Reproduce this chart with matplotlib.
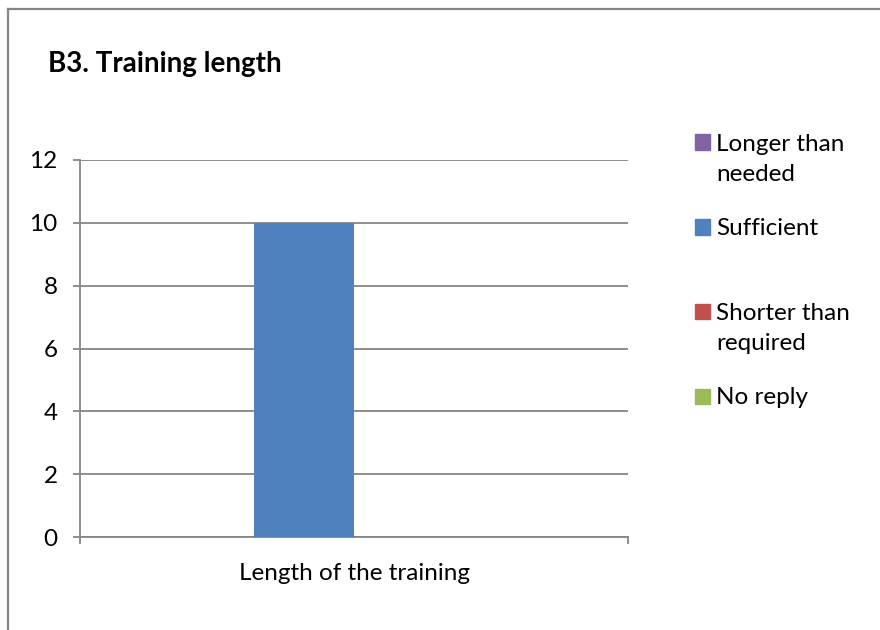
import numpy as np
import matplotlib
matplotlib.use('Agg')
import matplotlib.pyplot as plt
from matplotlib.patches import Rectangle
from matplotlib.lines import Line2D

plt.rcParams['font.family'] = ['Lato', 'DejaVu Sans']

# data
title = 'B3. Training length'
categories = ['Length of the training']
series_names = ['Longer than\nneeded', 'Sufficient', 'Shorter than\nrequired', 'No reply']
series_values = [[0], [10], [0], [0]]
series_colors = ['#8064A2', '#4F81BD', '#C0504D', '#9BBB59']
yticks = [0, 2, 4, 6, 8, 10, 12]

W, H = 880, 630
fig = plt.figure(figsize=(W / 100, H / 100), dpi=100)
ax = fig.add_axes([80 / W, 1 - 537 / H, (628 - 80) / W, (537 - 160) / H])

grey = '#868686'
fs = 17.5
n = len(series_names)
bw = 1.0 / (n + 1.5)  # excel gap width 150%
x = np.arange(len(categories))
for i in range(n):
    off = -0.5 + 0.75 * bw + (i + 0.5) * bw
    ax.bar(x + off, series_values[i], width=bw, color=series_colors[i], zorder=3)

ax.set_xlim(-0.5, len(categories) - 0.5)
ax.set_ylim(0, 12)
ax.set_yticks(yticks)
ax.yaxis.grid(True, color=grey, lw=1.3, zorder=0)
ax.tick_params(axis='y', length=5, width=1.3, color=grey, pad=11, labelsize=fs, direction='out')

ax.set_xticks(x)
ax.set_xticklabels(categories)
ax.set_xticks(np.arange(len(categories) + 1) - 0.5, minor=True)
ax.tick_params(axis='x', which='major', length=0, pad=19, labelsize=fs)
ax.tick_params(axis='x', which='minor', length=5, width=1.3, color=grey, direction='out')

for s in ['top', 'right']:
    ax.spines[s].set_visible(False)
for s in ['left', 'bottom']:
    ax.spines[s].set_color(grey)
    ax.spines[s].set_linewidth(1.3)

fig.text(48 / W, 1 - 64 / H, title, fontsize=20, fontweight='bold', va='center', ha='left')

# legend, excel style with the square on the first text line
leg_y = [142, 227, 311, 396]
line_px = 31
for name, col, yy in zip(series_names, series_colors, leg_y):
    fig.patches.append(Rectangle((695 / W, 1 - (yy + 7.5) / H), 15 / W, 15 / H,
                                 transform=fig.transFigure, color=col, figure=fig))
    extra = (name.count('\n')) * line_px  # baseline sits on the last line
    fig.text(716 / W, 1 - (yy + 8 + extra) / H, name, fontsize=fs, va='baseline', ha='left',
             linespacing=1.54)

# outer chart frame
fig.add_artist(Line2D([8 / W, 8 / W], [0, 1 - 9 / H], color=grey, lw=1.6))
fig.add_artist(Line2D([8 / W, 1], [1 - 9 / H, 1 - 9 / H], color=grey, lw=1.6))

fig.savefig('out.png', dpi=100)
